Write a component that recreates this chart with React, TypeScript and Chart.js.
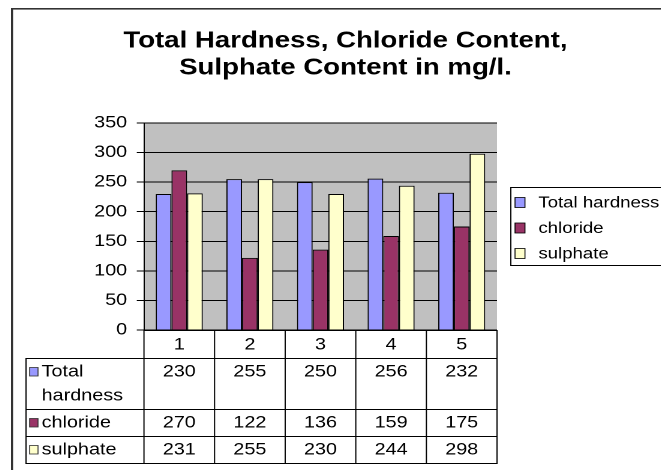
import React, { useEffect, useRef } from 'react';
import { Chart, registerables } from 'chart.js';

Chart.register(...registerables);

const TITLE_LINES = ['Total Hardness, Chloride Content,', 'Sulphate Content in mg/l.'];
const CATEGORIES = ['1', '2', '3', '4', '5'];
const SERIES_LABELS = ['Total hardness', 'chloride', 'sulphate'];
const TOTAL_HARDNESS = [230, 255, 250, 256, 232];
const CHLORIDE = [270, 122, 136, 159, 175];
const SULPHATE = [231, 255, 230, 244, 298];
const SERIES_COLORS = ['#9999FF', '#993366', '#FFFFCC'];
const Y_MIN = 0;
const Y_MAX = 350;
const Y_STEP = 50;

const SX = 1.2;
const W = 551;
const H = 462;
const FONT = '"Liberation Sans", Arial, Helvetica, sans-serif';
const TXT = 16.5;
const LEGEND_TXT = 15.5;

const customPlugin = {
  id: 'excelLook',
  beforeDraw(chart: any) {
    const { ctx, chartArea: a } = chart;
    ctx.save();
    ctx.fillStyle = '#C0C0C0';
    ctx.fillRect(a.left, a.top, a.right - a.left, a.bottom - a.top);
    ctx.restore();
  },
  afterDraw(chart: any) {
    const { ctx, chartArea: a } = chart;
    const xs = chart.scales.x;
    const ds = chart.data.datasets;
    ctx.save();

    // outer frame (left + top)
    ctx.fillStyle = '#333333';
    ctx.fillRect(2.5, 0, 1.7, H);
    ctx.fillRect(2.5, 0, W, 1.6);

    // title
    ctx.fillStyle = '#000';
    ctx.font = `bold 23px ${FONT}`;
    ctx.textAlign = 'center';
    ctx.textBaseline = 'middle';
    TITLE_LINES.forEach((t, i) => ctx.fillText(t, 281.2, 33.3 + 27 * i));

    // data table
    const n = CATEGORIES.length;
    const catW = (a.right - a.left) / n;
    const tableLeft = 15;
    const headerTop = a.bottom;
    const headerH = 28;
    const LINE_H = 24;
    const labelX = 28;
    ctx.font = `${TXT}px ${FONT}`;
    const avail = a.left - labelX - 3;
    const wrapped = ds.map((d: any) => {
      const words = String(d.label).split(' ');
      const lines: string[] = [];
      let cur = '';
      words.forEach((w) => {
        const test = cur ? cur + ' ' + w : w;
        if (ctx.measureText(test).width > avail && cur) {
          lines.push(cur);
          cur = w;
        } else cur = test;
      });
      if (cur) lines.push(cur);
      return lines;
    });
    const rowH = wrapped.map((l: string[]) => l.length * LINE_H + 3);

    // header labels
    ctx.fillStyle = '#000';
    ctx.textAlign = 'center';
    ctx.textBaseline = 'middle';
    CATEGORIES.forEach((c, i) => {
      ctx.fillText(c, xs.getPixelForValue(i), headerTop + headerH / 2 + 1);
    });

    let top = headerTop + headerH;
    const rowTops: number[] = [];
    ds.forEach((d: any, r: number) => {
      rowTops.push(top);
      const lines = wrapped[r];
      const firstY = lines.length > 1 ? top + 2 + LINE_H / 2 : top + rowH[r] / 2 + 0.5;
      // swatch
      ctx.fillStyle = d.backgroundColor;
      ctx.fillRect(18, firstY - 4.5, 7, 8.5);
      ctx.strokeStyle = '#333';
      ctx.lineWidth = 0.8;
      ctx.strokeRect(18, firstY - 4.5, 7, 8.5);
      ctx.fillStyle = '#000';
      ctx.textAlign = 'left';
      lines.forEach((ln: string, li: number) => ctx.fillText(ln, labelX, firstY + li * LINE_H));
      ctx.textAlign = 'center';
      d.data.forEach((v: number, i: number) => {
        ctx.fillText(String(v), xs.getPixelForValue(i), firstY);
      });
      top += rowH[r];
    });
    const tableBottom = top;

    ctx.strokeStyle = '#000';
    ctx.lineWidth = 1;
    ctx.beginPath();
    ctx.moveTo(a.left, headerTop + 0.5);
    ctx.lineTo(a.right, headerTop + 0.5);
    rowTops.concat([tableBottom]).forEach((y) => {
      ctx.moveTo(tableLeft, Math.round(y) + 0.5);
      ctx.lineTo(a.right, Math.round(y) + 0.5);
    });
    ctx.moveTo(tableLeft, rowTops[0]);
    ctx.lineTo(tableLeft, tableBottom + 1);
    for (let i = 0; i <= n; i++) {
      const x = a.left + i * catW;
      ctx.moveTo(x, headerTop);
      ctx.lineTo(x, tableBottom + 1);
    }
    ctx.stroke();

    // legend
    const lx = 419;
    const ly = 179;
    const lh = 78;
    ctx.strokeStyle = '#000';
    ctx.lineWidth = 1;
    ctx.strokeRect(lx, ly + 0.5, W, lh);
    ctx.font = `${LEGEND_TXT}px ${FONT}`;
    ctx.textAlign = 'left';
    ctx.textBaseline = 'middle';
    ds.forEach((d: any, i: number) => {
      const y = ly + 15.5 + i * 25.5;
      ctx.fillStyle = d.backgroundColor;
      ctx.fillRect(lx + 3.5, y - 5, 8.3, 10);
      ctx.strokeStyle = '#000';
      ctx.lineWidth = 0.8;
      ctx.strokeRect(lx + 3.5, y - 5, 8.3, 10);
      ctx.fillStyle = '#000';
      ctx.fillText(d.label, lx + 23, y + 0.5);
    });

    ctx.restore();
  },
};

export default function App() {
  const ref = useRef<HTMLCanvasElement | null>(null);

  useEffect(() => {
    if (!ref.current) return;
    const seriesValues = [TOTAL_HARDNESS, CHLORIDE, SULPHATE];
    const chart = new Chart(ref.current, {
      type: 'bar',
      data: {
        labels: CATEGORIES,
        datasets: SERIES_LABELS.map((label, i) => ({
          label,
          data: seriesValues[i],
          backgroundColor: SERIES_COLORS[i],
          borderColor: '#000000',
          borderWidth: 1,
          categoryPercentage: 0.666,
          barPercentage: 1,
        })),
      },
      options: {
        responsive: false,
        devicePixelRatio: 2,
        animation: false,
        layout: { padding: { left: 53.3, right: 143.5, top: 115, bottom: 140 } },
        plugins: {
          legend: { display: false },
          title: { display: false },
          tooltip: { enabled: false },
        },
        scales: {
          x: { display: false, offset: true },
          y: {
            min: Y_MIN,
            max: Y_MAX,
            ticks: {
              stepSize: Y_STEP,
              color: '#000',
              font: { family: FONT, size: TXT },
              padding: 8,
            },
            grid: { color: '#000', tickLength: 6, lineWidth: 1 },
            border: { color: '#000', width: 1 },
            afterFit: (s: any) => {
              s.width = 60;
            },
          },
        },
      } as any,
      plugins: [customPlugin],
    });
    return () => chart.destroy();
  }, []);

  return (
    <div style={{ width: 661, height: 462, overflow: 'hidden' }}>
      <div style={{ width: W, height: H, transform: `scaleX(${SX})`, transformOrigin: '0 0' }}>
        <canvas ref={ref} width={W} height={H} style={{ display: 'block' }} />
      </div>
    </div>
  );
}
